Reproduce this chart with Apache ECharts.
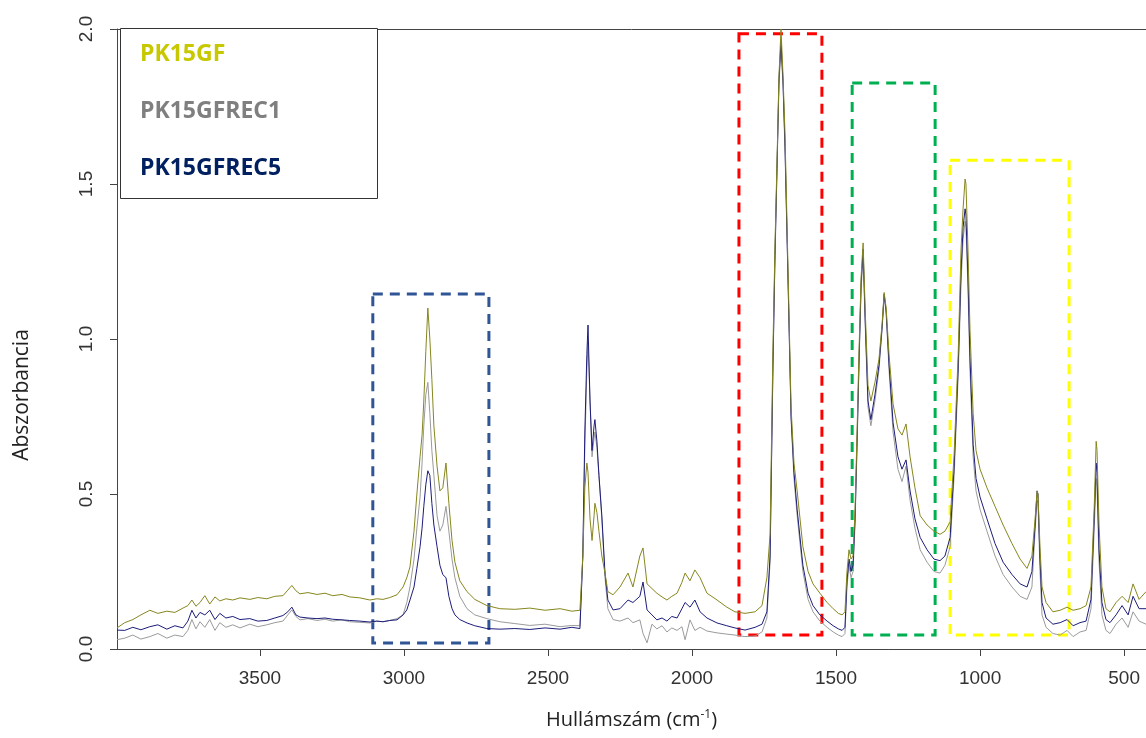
<!DOCTYPE html>
<html>
<head>
<meta charset="utf-8">
<title>PK15GF FTIR</title>
<script src="https://cdn.jsdelivr.net/npm/echarts@6/dist/echarts.min.js"></script>
<style>
    html, body { margin: 0; padding: 0; background: #fff; }
    #chart { width: 1146px; height: 738px; }
</style>
</head>
<body>
<div id="chart"></div>
<script>
// wavenumbers (cm-1)
const wavenumbers = [
    3996, 3969, 3941, 3913, 3882, 3854, 3823, 3795, 3767, 3750,
    3736, 3722, 3708, 3691, 3674, 3656, 3639, 3618, 3594, 3569,
    3535, 3507, 3476, 3448, 3420, 3403, 3389, 3375, 3361, 3333,
    3302, 3274, 3247, 3215, 3188, 3153, 3118, 3094, 3073, 3049,
    3024, 3003, 2990, 2979, 2965, 2955, 2944, 2937, 2931, 2924,
    2917, 2910, 2903, 2896, 2885, 2875, 2865, 2854, 2844, 2833,
    2823, 2806, 2781, 2754, 2712, 2667, 2615, 2563, 2510, 2458,
    2417, 2389, 2379, 2372, 2365, 2361, 2354, 2347, 2340, 2337,
    2330, 2323, 2313, 2302, 2292, 2274, 2250, 2222, 2205, 2181,
    2170, 2156, 2139, 2122, 2104, 2087, 2070, 2052, 2035, 2024,
    2007, 1990, 1972, 1948, 1913, 1879, 1851, 1816, 1781, 1757,
    1740, 1729, 1719, 1712, 1705, 1698, 1691, 1684, 1677, 1667,
    1656, 1646, 1635, 1615, 1597, 1580, 1556, 1531, 1510, 1492,
    1479, 1469, 1462, 1455, 1448, 1441, 1434, 1427, 1420, 1413,
    1406, 1399, 1389, 1379, 1365, 1351, 1340, 1333, 1326, 1316,
    1302, 1285, 1271, 1257, 1243, 1226, 1208, 1184, 1160, 1139,
    1122, 1104, 1090, 1076, 1066, 1059, 1052, 1049, 1042, 1035,
    1024, 1014, 1000, 976, 948, 920, 889, 861, 837, 820,
    809, 802, 799, 792, 785, 771, 747, 722, 698, 677,
    653, 632, 615, 604, 597, 594, 587, 577, 563, 549,
    528, 507, 486, 469, 448, 424
];

const absGF = [
    0.068, 0.085, 0.095, 0.110, 0.125, 0.115, 0.122, 0.118, 0.132, 0.140,
    0.158, 0.138, 0.150, 0.172, 0.145, 0.168, 0.155, 0.162, 0.158, 0.165,
    0.160, 0.166, 0.162, 0.170, 0.172, 0.190, 0.205, 0.188, 0.178, 0.182,
    0.176, 0.180, 0.172, 0.176, 0.168, 0.165, 0.158, 0.162, 0.160, 0.166,
    0.175, 0.200, 0.230, 0.265, 0.380, 0.500, 0.620, 0.690, 0.800, 0.960,
    1.100, 1.000, 0.870, 0.720, 0.590, 0.510, 0.520, 0.600, 0.470, 0.350,
    0.280, 0.220, 0.185, 0.160, 0.140, 0.130, 0.128, 0.132, 0.125, 0.130,
    0.122, 0.125, 0.300, 0.520, 0.600, 0.570, 0.420, 0.350, 0.430, 0.470,
    0.440, 0.380, 0.300, 0.245, 0.185, 0.175, 0.200, 0.245, 0.200, 0.300,
    0.326, 0.210, 0.195, 0.180, 0.168, 0.158, 0.170, 0.180, 0.215, 0.245,
    0.220, 0.255, 0.230, 0.180, 0.158, 0.135, 0.120, 0.115, 0.120, 0.140,
    0.230, 0.370, 0.970, 1.300, 1.570, 1.850, 2.000, 1.850, 1.660, 1.240,
    0.780, 0.600, 0.510, 0.330, 0.250, 0.210, 0.180, 0.150, 0.130, 0.115,
    0.110, 0.120, 0.250, 0.320, 0.290, 0.300, 0.450, 0.700, 0.970, 1.200,
    1.310, 1.100, 0.850, 0.800, 0.860, 0.935, 1.050, 1.150, 1.100, 0.950,
    0.790, 0.710, 0.690, 0.726, 0.620, 0.520, 0.430, 0.400, 0.380, 0.370,
    0.380, 0.410, 0.630, 0.950, 1.290, 1.420, 1.516, 1.500, 1.290, 1.030,
    0.760, 0.640, 0.580, 0.520, 0.460, 0.400, 0.340, 0.290, 0.260, 0.300,
    0.420, 0.510, 0.500, 0.330, 0.200, 0.150, 0.120, 0.125, 0.135, 0.125,
    0.130, 0.140, 0.200, 0.450, 0.670, 0.640, 0.400, 0.200, 0.130, 0.120,
    0.150, 0.170, 0.150, 0.210, 0.160, 0.185
];

const absREC1 = [
    0.030, 0.035, 0.045, 0.032, 0.040, 0.050, 0.035, 0.045, 0.040, 0.060,
    0.095, 0.065, 0.088, 0.070, 0.095, 0.060, 0.085, 0.070, 0.078, 0.068,
    0.080, 0.072, 0.078, 0.085, 0.090, 0.110, 0.126, 0.105, 0.094, 0.098,
    0.092, 0.096, 0.090, 0.094, 0.088, 0.086, 0.084, 0.090, 0.088, 0.092,
    0.098, 0.110, 0.150, 0.200, 0.290, 0.390, 0.490, 0.600, 0.720, 0.820,
    0.860, 0.760, 0.640, 0.560, 0.430, 0.380, 0.400, 0.460, 0.380, 0.290,
    0.230, 0.170, 0.130, 0.110, 0.098, 0.088, 0.082, 0.076, 0.080, 0.072,
    0.076, 0.075, 0.300, 0.650, 0.900, 0.990, 0.800, 0.620, 0.680, 0.700,
    0.650, 0.560, 0.420, 0.230, 0.130, 0.095, 0.090, 0.100, 0.085, 0.094,
    0.050, 0.020, 0.080, 0.065, 0.075, 0.055, 0.068, 0.060, 0.072, 0.030,
    0.094, 0.060, 0.070, 0.058, 0.052, 0.048, 0.045, 0.040, 0.042, 0.055,
    0.100, 0.280, 0.900, 1.250, 1.540, 1.820, 1.940, 1.820, 1.600, 1.200,
    0.740, 0.550, 0.430, 0.250, 0.160, 0.120, 0.090, 0.070, 0.055, 0.045,
    0.040, 0.050, 0.200, 0.270, 0.230, 0.250, 0.400, 0.650, 0.920, 1.160,
    1.270, 1.050, 0.780, 0.720, 0.800, 0.900, 1.030, 1.140, 1.080, 0.900,
    0.700, 0.580, 0.540, 0.590, 0.480, 0.390, 0.320, 0.280, 0.250, 0.245,
    0.270, 0.330, 0.560, 0.880, 1.180, 1.320, 1.380, 1.360, 1.160, 0.900,
    0.620, 0.510, 0.450, 0.380, 0.300, 0.240, 0.200, 0.170, 0.160, 0.200,
    0.380, 0.480, 0.470, 0.250, 0.110, 0.070, 0.050, 0.045, 0.060, 0.040,
    0.055, 0.060, 0.130, 0.380, 0.550, 0.520, 0.280, 0.110, 0.060, 0.050,
    0.080, 0.100, 0.070, 0.120, 0.090, 0.080
];

const absREC5 = [
    0.061, 0.060, 0.070, 0.062, 0.072, 0.078, 0.064, 0.075, 0.068, 0.090,
    0.125, 0.100, 0.118, 0.110, 0.125, 0.095, 0.115, 0.100, 0.105, 0.095,
    0.098, 0.090, 0.092, 0.100, 0.108, 0.120, 0.135, 0.110, 0.103, 0.100,
    0.098, 0.100, 0.096, 0.094, 0.092, 0.090, 0.087, 0.090, 0.088, 0.092,
    0.094, 0.110, 0.126, 0.158, 0.200, 0.260, 0.330, 0.390, 0.460, 0.530,
    0.575, 0.560, 0.470, 0.400, 0.330, 0.270, 0.240, 0.230, 0.170, 0.130,
    0.110, 0.095, 0.084, 0.075, 0.066, 0.064, 0.066, 0.063, 0.068, 0.064,
    0.070, 0.066, 0.300, 0.700, 0.950, 1.045, 0.800, 0.640, 0.720, 0.740,
    0.670, 0.560, 0.430, 0.245, 0.158, 0.126, 0.130, 0.158, 0.150, 0.170,
    0.216, 0.126, 0.110, 0.094, 0.100, 0.090, 0.105, 0.100, 0.130, 0.150,
    0.135, 0.158, 0.120, 0.100, 0.084, 0.075, 0.068, 0.061, 0.070, 0.080,
    0.120, 0.300, 0.920, 1.270, 1.550, 1.840, 1.960, 1.830, 1.620, 1.210,
    0.750, 0.570, 0.450, 0.270, 0.180, 0.140, 0.110, 0.090, 0.075, 0.065,
    0.060, 0.070, 0.220, 0.290, 0.250, 0.270, 0.420, 0.670, 0.940, 1.180,
    1.290, 1.070, 0.800, 0.740, 0.820, 0.915, 1.040, 1.145, 1.090, 0.920,
    0.730, 0.620, 0.580, 0.610, 0.510, 0.420, 0.360, 0.320, 0.290, 0.285,
    0.300, 0.360, 0.590, 0.910, 1.220, 1.360, 1.420, 1.400, 1.200, 0.940,
    0.660, 0.550, 0.490, 0.420, 0.340, 0.280, 0.240, 0.210, 0.200, 0.250,
    0.400, 0.510, 0.500, 0.290, 0.150, 0.100, 0.080, 0.085, 0.095, 0.075,
    0.085, 0.090, 0.160, 0.420, 0.600, 0.570, 0.320, 0.150, 0.095, 0.085,
    0.110, 0.140, 0.110, 0.170, 0.130, 0.130
];

const xTicks = [3500, 3000, 2500, 2000, 1500, 1000, 500];

// dashed boxes marking the bands: [from, to] wavenumber, [bottom, top] absorbance
const bandBoxes = [
    [3108, 2705, 0.019, 1.145],
    [1837, 1549, 0.045, 1.985],
    [1444, 1156, 0.045, 1.826],
    [1104, 691, 0.045, 1.577]
];
const boxColors = ['#2f5597', '#ff0000', '#00b050', '#ffff00'];

function pairs(values) {
    return wavenumbers.map(function (w, i) { return [w, values[i]]; });
}

let myChart = echarts.init(document.getElementById('chart'));

let boxData = bandBoxes.map(function (b, i) {
    return [
        {coord: [b[0], b[3]], itemStyle: {color: 'rgba(0,0,0,0)', borderColor: boxColors[i], borderWidth: 3, borderType: [10, 7]}},
        {coord: [b[1], b[2]]}
    ];
});

let axisColor = '#444';
let option = {
    animation: false,
    backgroundColor: '#fff',
    grid: {left: 117, top: 29, right: 0, bottom: 89},
    legend: {
        orient: 'vertical',
        left: 135,
        top: 42,
        padding: 0,
        icon: 'none',
        itemWidth: 0,
        itemHeight: 0,
        itemGap: 33,
        selectedMode: false,
        textStyle: {fontFamily: 'Open Sans', fontWeight: 'bold', fontSize: 23, lineHeight: 24},
        data: [
            {name: 'PK15GF', textStyle: {color: '#c8c800'}},
            {name: 'PK15GFREC1', textStyle: {color: '#7f7f7f'}},
            {name: 'PK15GFREC5', textStyle: {color: '#002060'}}
        ]
    },
    graphic: [
        {type: 'rect', z: 3, shape: {x: 120.5, y: 28.5, width: 257, height: 170},
            style: {fill: '#fff', stroke: '#333', lineWidth: 1}},
        {type: 'text', x: 22, y: 395, rotation: Math.PI / 2,
            style: {text: 'Abszorbancia', fontFamily: 'Open Sans', fontSize: 21, fill: '#222',
                align: 'center', verticalAlign: 'middle'}}
    ],
    xAxis: [{
        type: 'value',
        inverse: true,
        min: 424,
        max: 3996,
        name: 'Hullámszám (cm{sup|-1})',
        nameLocation: 'middle',
        nameGap: 60,
        nameTextStyle: {
            fontFamily: 'Open Sans', fontSize: 20, color: '#222',
            rich: {sup: {fontFamily: 'Open Sans', fontSize: 12, color: '#222', verticalAlign: 'top', lineHeight: 22}}
        },
        splitLine: {show: false},
        axisLine: {lineStyle: {color: axisColor, width: 1}},
        axisTick: {length: 7, customValues: xTicks, lineStyle: {color: axisColor}},
        axisLabel: {
            customValues: xTicks, margin: 20, fontFamily: 'Liberation Sans', fontSize: 19, color: '#333',
            formatter: function (v) { return String(v); }
        }
    }, {
        type: 'value',
        position: 'top',
        inverse: true,
        min: 424,
        max: 3996,
        axisLine: {show: true, onZero: false, lineStyle: {color: axisColor, width: 1}},
        axisTick: {show: false},
        axisLabel: {show: false},
        splitLine: {show: false}
    }],
    yAxis: {
        type: 'value',
        min: 0,
        max: 2,
        interval: 0.5,
        splitLine: {show: false},
        axisLine: {show: true, lineStyle: {color: axisColor, width: 1}},
        axisTick: {length: 7, lineStyle: {color: axisColor}},
        axisLabel: {
            rotate: 90, margin: 21, fontFamily: 'Liberation Sans', fontSize: 19, color: '#333',
            formatter: function (v) { return v.toFixed(1); }
        }
    },
    series: [
        {name: 'PK15GFREC1', type: 'line', showSymbol: false, data: pairs(absREC1),
            lineStyle: {color: '#9a9a9a', width: 1}, itemStyle: {color: '#9a9a9a'}},
        {name: 'PK15GFREC5', type: 'line', showSymbol: false, data: pairs(absREC5),
            lineStyle: {color: '#1c1c7a', width: 1}, itemStyle: {color: '#1c1c7a'}},
        {name: 'PK15GF', type: 'line', showSymbol: false, data: pairs(absGF),
            lineStyle: {color: '#86861e', width: 1}, itemStyle: {color: '#86861e'},
            markArea: {silent: true, label: {show: false}, data: boxData}}
    ]
};
myChart.setOption(option);
</script>
</body>
</html>
